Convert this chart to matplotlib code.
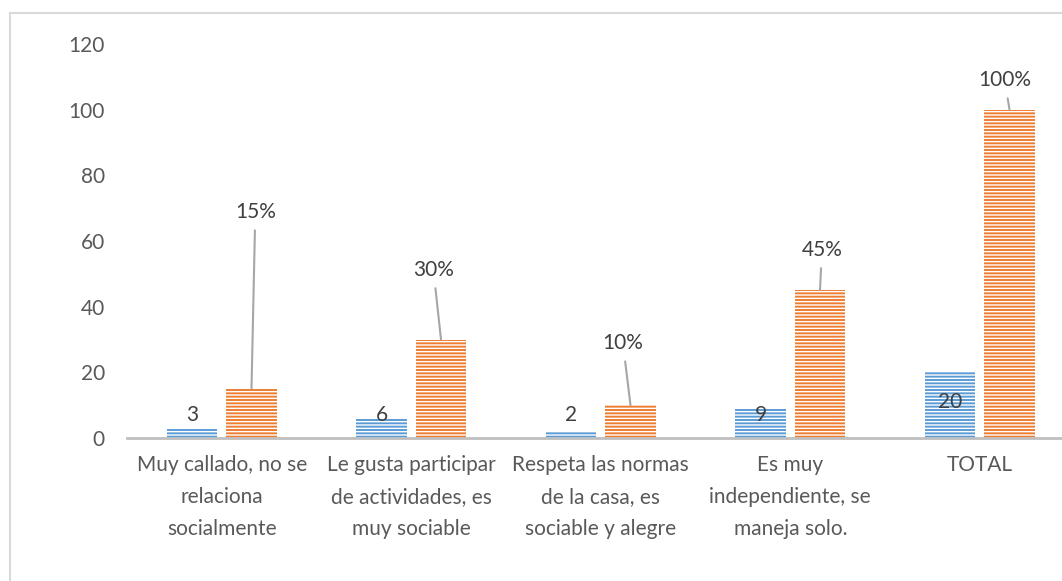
import matplotlib.pyplot as plt
import numpy as np

# Datos del grafico
categorias = ['Muy callado, no se\nrelaciona\nsocialmente',
              'Le gusta participar\nde actividades, es\nmuy sociable',
              'Respeta las normas\nde la casa, es\nsociable y alegre',
              'Es muy\nindependiente, se\nmaneja solo.',
              'TOTAL']
frecuencia = [3, 6, 2, 9, 20]
porcentaje = [15, 30, 10, 45, 100]
yticks = [0, 20, 40, 60, 80, 100, 120]

# posiciones de las etiquetas (solo diseno)
freq_label_y = [7, 7, 7, 7, 11]
pct_label_dx = [0.02, -0.04, -0.04, 0.01, -0.025]
pct_label_y = [68.8, 51.2, 28.9, 57.3, 109]

azul = '#5B9BD5'
naranja = '#ED7D31'
texto = '#595959'

plt.rcParams['font.family'] = ['Lato', 'DejaVu Sans']
plt.rcParams['hatch.linewidth'] = 1.0

fig = plt.figure(figsize=(10.62, 5.81), dpi=100)
ax = fig.add_axes([127 / 1062, 1 - 438 / 581, 947.5 / 1062, 394 / 581])

# borde del grafico (solo arriba e izquierda visibles)
fig.add_artist(plt.Line2D([10 / 1062, 10 / 1062], [0, 1 - 13 / 581],
                          transform=fig.transFigure, color='#D9D9D9', lw=1.5))
fig.add_artist(plt.Line2D([10 / 1062, 1], [1 - 13 / 581, 1 - 13 / 581],
                          transform=fig.transFigure, color='#D9D9D9', lw=1.5))

x = np.arange(len(categorias))
ancho = 0.264
desp = 0.157

ax.bar(x - desp, frecuencia, ancho, color=azul, edgecolor='white',
       linewidth=0, hatch='-----')
ax.bar(x + desp, porcentaje, ancho, color=naranja, edgecolor='white',
       linewidth=0, hatch='-----')

# etiquetas de frecuencia
for i, v in enumerate(frecuencia):
    ax.text(x[i] - desp, freq_label_y[i], str(v), ha='center', va='center',
            fontsize=15, color='#404040')

# etiquetas de porcentaje con linea guia
for i, v in enumerate(porcentaje):
    ax.annotate(f'{v}%', xy=(x[i] + desp, v),
                xytext=(x[i] + desp + pct_label_dx[i], pct_label_y[i]),
                textcoords='data', ha='center', va='center', fontsize=15,
                color='#404040',
                arrowprops=dict(arrowstyle='-', color='#A6A6A6', lw=1.5,
                                shrinkA=4, shrinkB=0))

ax.set_xlim(-0.5, len(categorias) - 0.5)
ax.set_ylim(0, 120)
ax.set_yticks(yticks)
ax.set_xticks(x)
ax.set_xticklabels(categorias, fontsize=15, color=texto, linespacing=1.75)
ax.tick_params(axis='y', labelsize=15, labelcolor=texto, length=0, pad=16)
ax.tick_params(axis='x', length=0, pad=12)

for s in ['top', 'right', 'left']:
    ax.spines[s].set_visible(False)
ax.spines['bottom'].set_color('#BFBFBF')
ax.spines['bottom'].set_linewidth(2)

fig.savefig('out.png', dpi=100)
